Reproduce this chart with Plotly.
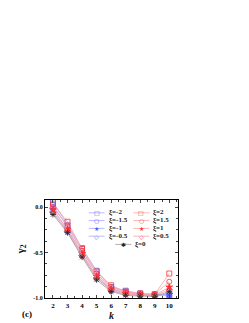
import plotly.graph_objects as go

k = [2, 3, 4, 5, 6, 7, 8, 9, 10]
xi_labels = ["ξ=-2", "ξ=-1.5", "ξ=-1", "ξ=-0.5", "ξ=2", "ξ=1.5", "ξ=1", "ξ=0.5", "ξ=0"]
g_m2 = [0.06, -0.20, -0.45, -0.70, -0.88, -0.92, -0.95, -0.96, -0.97]
g_m15 = [0.03, -0.22, -0.48, -0.73, -0.90, -0.93, -0.96, -0.97, -0.97]
g_m1 = [-0.02, -0.25, -0.51, -0.76, -0.91, -0.95, -0.97, -0.97, -0.96]
g_m05 = [-0.05, -0.27, -0.53, -0.78, -0.92, -0.96, -0.97, -0.98, -0.95]
g_p2 = [0.04, -0.16, -0.46, -0.71, -0.86, -0.93, -0.95, -0.96, -0.73]
g_p15 = [0.00, -0.20, -0.48, -0.73, -0.88, -0.94, -0.96, -0.96, -0.82]
g_p1 = [-0.03, -0.24, -0.51, -0.76, -0.90, -0.95, -0.96, -0.97, -0.88]
g_p05 = [-0.06, -0.26, -0.53, -0.78, -0.91, -0.96, -0.97, -0.97, -0.91]
g_0 = [-0.08, -0.28, -0.55, -0.80, -0.93, -0.97, -0.98, -0.98, -0.93]

series = [g_m2, g_m15, g_m1, g_m05, g_p2, g_p15, g_p1, g_p05, g_0]
symbols = ["square-open", "circle-open", "star", "diamond-open",
           "square-open", "circle-open", "star", "diamond-open", "asterisk-open"]
glyphs = ["□", "○", "★", "◇", "□", "○", "★", "◇", "✱"]
blue, red, black = "#5050ff", "#ff3030", "#222222"
blue_l, red_l, black_l = "#a8a8ff", "#ffa0a0", "#999999"
colors = [blue] * 4 + [red] * 4 + [black]
lcolors = [blue_l] * 4 + [red_l] * 4 + [black_l]

W, H = 249, 323
L, R, T, B = 36, 170, 192, 299
font = "Liberation Serif, Times New Roman, serif"

fig = go.Figure()
for name, y, sym, c, lc in zip(xi_labels, series, symbols, colors, lcolors):
    fig.add_trace(go.Scatter(
        x=k, y=y, name=name, mode="lines+markers",
        line=dict(color=lc, width=0.8),
        marker=dict(symbol=sym, size=5, color=c, line=dict(color=c, width=0.8)),
        showlegend=False,
    ))

def px(x):
    return (x - L) / (R - L)

def py(y):
    return (B - y) / (B - T)

# hand-built compact legend (layout only)
rows = [206, 214.5, 223, 231.5]
col_line = [(80, 96), (125, 141)]
col_text = [98, 143]
entries = []
for ci in range(2):
    for ri in range(4):
        entries.append((col_line[ci], col_text[ci], rows[ri]))
entries.append(((107, 123), 125, 240.5))

for i, ((x0, x1), xt, yr) in enumerate(entries):
    fig.add_shape(type="line", xref="paper", yref="paper",
                  x0=px(x0), x1=px(x1), y0=py(yr), y1=py(yr),
                  line=dict(color=lcolors[i], width=0.8))
    fig.add_annotation(text=glyphs[i], xref="paper", yref="paper",
                       x=px((x0 + x1) / 2), y=py(yr), xanchor="center", yanchor="middle",
                       showarrow=False, bgcolor="rgba(0,0,0,0)",
                       font=dict(family="DejaVu Sans", size=6, color=colors[i]))
    fig.add_annotation(text="<b>" + xi_labels[i] + "</b>", xref="paper", yref="paper",
                       x=px(xt), y=py(yr), xanchor="left", yanchor="middle",
                       showarrow=False, font=dict(family=font, size=7, color="#222"))

fig.update_layout(
    width=W, height=H,
    margin=dict(l=L, r=W - R, t=T, b=H - B),
    paper_bgcolor="white", plot_bgcolor="white",
    font=dict(family=font, size=7, color="#111"),
    showlegend=False,
)
fig.update_xaxes(range=[1.45, 10.6], tickvals=k, ticks="inside", ticklen=3,
                 showline=True, linecolor="black", linewidth=1.2, mirror="ticks",
                 showgrid=False, zeroline=False,
                 tickfont=dict(family=font, size=7, color="black", weight="bold"),
                 title=dict(text="<b><i>k</i></b>", font=dict(family=font, size=10), standoff=2),
                 minor=dict(ticks="inside", ticklen=2, dtick=0.5, tick0=0))
fig.update_yaxes(range=[-1.0, 0.08], tickvals=[0.0, -0.5, -1.0], ticktext=["0.0", "-0.5", "-1.0"],
                 ticks="inside", ticklen=3,
                 showline=True, linecolor="black", linewidth=1.2, mirror="ticks",
                 showgrid=False, zeroline=False,
                 tickfont=dict(family=font, size=6, color="black", weight="bold"),
                 title=dict(text="<b>γ<sub>2</sub></b>", font=dict(family=font, size=11), standoff=6),
                 minor=dict(ticks="inside", ticklen=2, dtick=0.125, tick0=0))
fig.add_annotation(text="<b>(c)</b>", x=px(18), y=py(316), xref="paper", yref="paper",
                   xanchor="center", yanchor="middle",
                   showarrow=False, font=dict(family=font, size=9, color="black"))
fig.write_html("out.html")
